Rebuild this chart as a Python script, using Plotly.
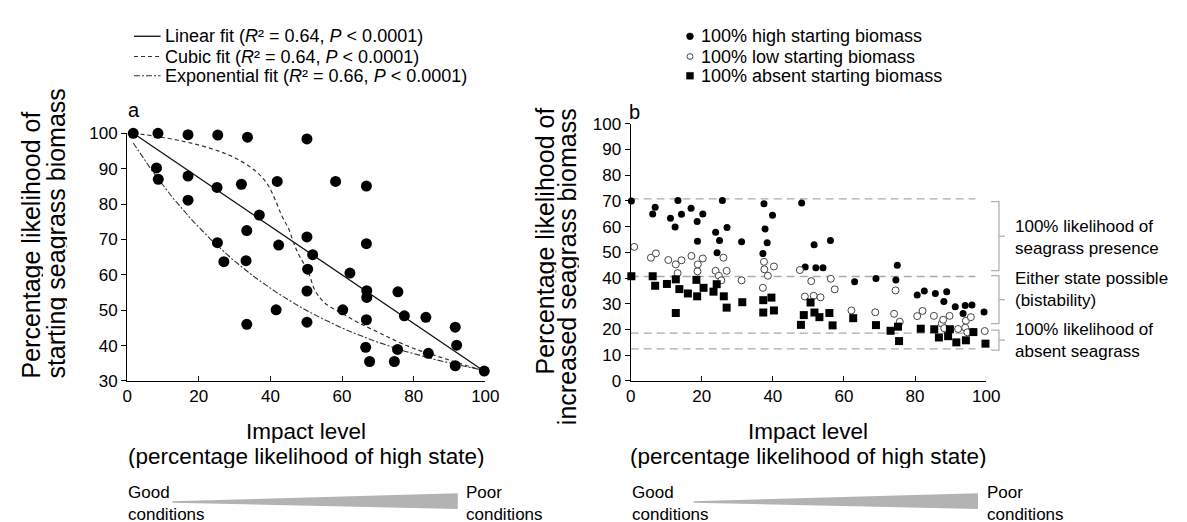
import plotly.graph_objects as go
import numpy as np

W, H = 1187, 522
FONT = "Liberation Sans, Arial, Helvetica, sans-serif"

# ---------------- Panel a data ----------------
a_x = [1.7, 8.6, 17.0, 25.3, 33.6, 50.2, 8.2, 8.7, 17.0, 17.0, 25.1, 31.9, 41.9, 58.2, 66.8,
       36.9, 33.4, 25.2, 42.3, 50.2, 27.0, 33.2, 51.8, 66.8, 50.4, 62.2, 50.2, 66.9, 66.9, 75.6,
       41.6, 60.2, 66.8, 50.2, 33.4, 77.4, 83.4, 91.6, 92.0, 66.6, 75.5, 84.1, 67.7, 74.6, 91.6, 99.7]
a_y = [100.0, 100.0, 99.6, 99.5, 98.9, 98.4, 90.2, 87.0, 87.9, 81.1, 84.7, 85.6, 86.4, 86.4, 85.1,
       76.9, 72.5, 69.1, 68.4, 70.7, 63.7, 64.0, 65.7, 68.8, 61.6, 60.5, 55.4, 55.5, 53.6, 55.2,
       50.1, 50.1, 47.3, 46.6, 46.0, 48.4, 48.0, 45.2, 40.1, 39.5, 38.9, 37.8, 35.5, 35.5, 34.3, 32.8]

# fitted models (coefficients)
lin_intercept, lin_slope = 101.17, -0.6864
exp_c, exp_a, exp_b = 24.2, 75.8, 0.02158
fit_x_min, fit_x_max = 1.7, 99.7
# cubic fit curve
cubic_x = [1.7, 8.4, 16.7, 24.9, 30.4, 35.9, 39.1, 41.4, 43.2, 45.1, 46.4, 48.0, 50.5, 52.4,
           55.1, 59.7, 64.3, 69.8, 75.3, 80.8, 86.3, 91.8, 99.7]
cubic_y = [100.0, 99.1, 97.5, 95.2, 92.9, 89.3, 85.7, 81.1, 76.6, 73.0, 69.3, 65.5, 61.0, 55.7,
           52.1, 49.3, 46.6, 43.9, 41.2, 38.9, 37.1, 35.3, 32.8]

# ---------------- Panel b data ----------------
high_x = [0.2, 6.9, 6.2, 11.2, 12.5, 13.3, 14.3, 17.0, 18.7, 20.3, 18.8, 23.9, 25.0, 24.3, 25.8,
          27.1, 31.2, 37.5, 37.8, 38.4, 39.9, 37.2, 48.1, 49.1, 51.6, 52.1, 54.1, 56.2, 63.0, 69.0,
          75.0, 74.6, 80.6, 82.6, 85.7, 88.1, 88.9, 91.3, 93.5, 94.1, 96.0, 99.4]
high_y = [69.9, 67.5, 64.9, 63.2, 59.8, 70.1, 64.8, 67.1, 62.0, 64.9, 54.3, 57.8, 54.6, 49.8, 70.1,
          59.6, 54.1, 68.9, 59.1, 53.7, 64.4, 49.5, 69.2, 44.3, 52.9, 44.0, 44.0, 54.6, 38.6, 39.8,
          45.0, 39.2, 33.4, 35.0, 34.0, 30.9, 34.7, 28.8, 26.2, 29.3, 29.5, 26.8]
low_x = [1.0, 5.7, 7.1, 10.6, 12.7, 14.3, 13.2, 17.1, 18.9, 20.3, 18.8, 23.9, 24.8, 25.5, 26.1,
         27.0, 31.2, 37.2, 37.5, 37.6, 38.6, 40.3, 47.6, 50.8, 49.0, 51.5, 53.4, 56.3, 57.4, 62.1,
         68.8, 74.5, 74.1, 75.7, 80.6, 82.1, 85.3, 87.5, 87.9, 88.2, 89.7, 92.1, 94.3, 94.1, 95.7,
         94.7, 99.6]
low_y = [52.1, 47.9, 49.6, 47.0, 45.3, 46.9, 41.9, 48.6, 45.3, 47.6, 42.6, 42.8, 40.9, 39.1, 47.9,
         42.8, 39.1, 36.2, 46.3, 43.4, 40.9, 44.5, 43.1, 38.8, 32.8, 33.1, 32.5, 39.7, 35.6, 27.4,
         26.7, 35.2, 26.1, 23.0, 25.2, 27.2, 25.3, 22.3, 23.8, 20.5, 25.3, 20.2, 23.4, 20.7, 24.8,
         18.9, 19.4]
absent_x = [0.2, 6.2, 6.9, 10.2, 12.7, 13.7, 12.7, 16.1, 18.5, 18.7, 20.5, 23.3, 24.2, 26.2, 27.0,
            31.4, 37.3, 39.6, 37.3, 40.3, 47.9, 48.7, 50.6, 51.7, 53.1, 55.9, 56.8, 62.6, 69.0,
            73.1, 75.2, 75.5, 81.6, 85.4, 86.7, 89.3, 89.8, 91.6, 94.3, 96.4, 99.8]
absent_y = [40.7, 40.7, 37.0, 37.7, 39.5, 35.7, 26.4, 34.0, 39.3, 32.9, 36.2, 34.7, 37.6, 32.9, 28.5,
            30.6, 31.4, 32.4, 26.6, 27.4, 21.8, 25.6, 30.5, 26.6, 24.8, 26.4, 21.6, 24.4, 21.7,
            19.5, 21.1, 15.5, 20.3, 20.1, 16.9, 17.4, 20.1, 15.0, 15.8, 19.0, 14.5]

# threshold lines (panel b)
thresholds = [70.8, 40.6, 18.6, 12.5]
threshold_x_end = 97

legend_labels_a = ["Linear fit (<i>R</i>² = 0.64, <i>P</i> &lt; 0.0001)",
                   "Cubic fit (<i>R</i>² = 0.64, <i>P</i> &lt; 0.0001)",
                   "Exponential fit (<i>R</i>² = 0.66, <i>P</i> &lt; 0.0001)"]
legend_labels_b = ["100% high starting biomass", "100% low starting biomass",
                   "100% absent starting biomass"]
region_labels = ["100% likelihood of<br>seagrass presence",
                 "Either state possible<br>(bistability)",
                 "100% likelihood of<br>absent seagrass"]
ticks_x = [0, 20, 40, 60, 80, 100]


def px(x):
    return x / W


def py(y):
    return 1 - y / H


LINE_STYLES = [dict(color="#111111", width=1.3, dash="solid"),
               dict(color="#333333", width=1.2, dash="4px,3px"),
               dict(color="#333333", width=1.1, dash="6px,2px,2px,2px")]

fig = go.Figure()

xs = np.linspace(fit_x_min, fit_x_max, 200)
fig.add_trace(go.Scatter(x=[fit_x_min, fit_x_max],
                         y=[lin_intercept + lin_slope * fit_x_min, lin_intercept + lin_slope * fit_x_max],
                         mode="lines", line=LINE_STYLES[0],
                         name="Linear fit", showlegend=False, xaxis="x", yaxis="y"))
fig.add_trace(go.Scatter(x=cubic_x, y=cubic_y, mode="lines", line_shape="spline",
                         line=LINE_STYLES[1],
                         name="Cubic fit", showlegend=False, xaxis="x", yaxis="y"))
fig.add_trace(go.Scatter(x=xs, y=exp_c + exp_a * np.exp(-exp_b * xs), mode="lines",
                         line=LINE_STYLES[2],
                         name="Exponential fit", showlegend=False, xaxis="x", yaxis="y"))
fig.add_trace(go.Scatter(x=a_x, y=a_y, mode="markers", cliponaxis=False,
                         marker=dict(color="black", size=11), showlegend=False,
                         xaxis="x", yaxis="y"))

# panel b threshold lines
for t in thresholds:
    fig.add_trace(go.Scatter(x=[0, threshold_x_end], y=[t, t], mode="lines",
                             line=dict(color="#aaaaaa", width=1.3, dash="8px,5px"),
                             showlegend=False, xaxis="x2", yaxis="y2", hoverinfo="skip"))

fig.add_trace(go.Scatter(x=high_x, y=high_y, mode="markers", cliponaxis=False,
                         marker=dict(color="black", size=7, symbol="circle"),
                         name=legend_labels_b[0], showlegend=False, xaxis="x2", yaxis="y2"))
fig.add_trace(go.Scatter(x=low_x, y=low_y, mode="markers", cliponaxis=False,
                         marker=dict(color="white", size=7, symbol="circle",
                                     line=dict(color="#444444", width=1)),
                         name=legend_labels_b[1], showlegend=False, xaxis="x2", yaxis="y2"))
fig.add_trace(go.Scatter(x=absent_x, y=absent_y, mode="markers", cliponaxis=False,
                         marker=dict(color="black", size=8, symbol="square"),
                         name=legend_labels_b[2], showlegend=False, xaxis="x2", yaxis="y2"))

axis_common = dict(showline=True, linecolor="black", linewidth=1.2, showgrid=False,
                   zeroline=False, tickfont=dict(family=FONT, size=17, color="black"),
                   tickcolor="black", ticklen=5, tickwidth=1)

layout = dict(
    width=W, height=H, margin=dict(l=0, r=0, t=0, b=0),
    paper_bgcolor="white", plot_bgcolor="white", showlegend=False,
    font=dict(family=FONT, color="black"),
    xaxis=dict(domain=[px(116), px(480)], range=[0, 100], tickvals=ticks_x, ticks="inside",
               anchor="y", **axis_common),
    yaxis=dict(domain=[py(377.7), py(120.7)], range=[30, 100], dtick=10, ticks="outside",
               anchor="x", **axis_common),
    xaxis2=dict(domain=[px(627.7), px(989)], range=[0, 100], tickvals=ticks_x, ticks="inside",
                anchor="y2", **axis_common),
    yaxis2=dict(domain=[py(377.7), py(110.7)], range=[0, 100], dtick=10, ticks="outside",
                anchor="x2", **axis_common),
)
fig.update_layout(**layout)

annotations = []


def ann(text, x, y, size, xanchor="center", yanchor="middle", angle=0, height=None,
        align="center"):
    d = dict(text=text, x=px(x), y=py(y), xref="paper", yref="paper",
             showarrow=False, xanchor=xanchor, yanchor=yanchor, textangle=angle, align=align,
             font=dict(family=FONT, size=size, color="black"))
    if height is not None:
        d["height"] = height
    annotations.append(d)


rows = [20, 41, 61]
# legends (manual)
for lbl, yy in zip(legend_labels_a, rows):
    ann(lbl, 152, yy, 18, xanchor="left", height=20)
for lbl, yy in zip(legend_labels_b, rows):
    ann(lbl, 697, yy, 18, xanchor="left", height=20)

# panel labels
ann("a", 123, 97, 20)
ann("b", 632, 99, 20)
# y-axis titles
ann("Percentage likelihood of", 19, 377, 25, yanchor="bottom", angle=-90, height=23)
ann("starting seagrass biomass", 43, 377, 25, yanchor="bottom", angle=-90, height=23)
ann("Percentage likelihood of", 540, 92, 25, yanchor="top", angle=-90, height=23)
ann("increased seagrass biomass", 563, 92, 25, yanchor="top", angle=-90, height=23)
# x-axis titles
for cx in (298, 808.3):
    ann("Impact level", cx, 430, 22.5, height=24)
    ann("(percentage likelihood of high state)", cx, 456, 22.5, height=24)
# conditions labels
for gx, pxr in ((115, 458), (627, 988)):
    ann("Good<br>conditions", gx, 505, 17, xanchor="left", align="left")
    ann("Poor<br>conditions", pxr, 505, 17, xanchor="left", align="left")
# right-hand region labels
for txt, yy in zip(region_labels, (228.5, 282.5, 335.5)):
    ann(txt, 1016, yy, 17, xanchor="left", align="left")

fig.update_layout(annotations=annotations)

shapes = []


def pth(points):
    d = ""
    for i, (x, y) in enumerate(points):
        d += ("M" if i == 0 else "L") + f"{px(x):.5f},{py(y):.5f} "
    return d


# legend samples: fit lines
for st, yy in zip(LINE_STYLES, rows):
    shapes.append(dict(type="line", xref="paper", yref="paper",
                       x0=px(123), x1=px(150), y0=py(yy), y1=py(yy), line=st))
# legend samples: markers
mx = 688
shapes.append(dict(type="circle", xref="paper", yref="paper", x0=px(mx - 3.5), x1=px(mx + 3.5),
                   y0=py(rows[0] + 3.5), y1=py(rows[0] - 3.5), fillcolor="black",
                   line=dict(color="black", width=0.5)))
shapes.append(dict(type="circle", xref="paper", yref="paper", x0=px(mx - 3), x1=px(mx + 3),
                   y0=py(rows[1] + 3), y1=py(rows[1] - 3), fillcolor="white",
                   line=dict(color="#444444", width=1)))
shapes.append(dict(type="rect", xref="paper", yref="paper", x0=px(mx - 3.5), x1=px(mx + 3.5),
                   y0=py(rows[2] + 3.5), y1=py(rows[2] - 3.5), fillcolor="black",
                   line=dict(color="black", width=0.5)))

# gradient wedges
for x0, x1 in ((162, 452), (691.7, 980.7)):
    shapes.append(dict(type="path", xref="paper", yref="paper",
                       path=pth([(x0, 502.5), (x1, 494.3), (x1, 510.5), (x0, 504)]) + "Z",
                       fillcolor="#b3b3b3", line=dict(width=0)))
# brackets
for top, bot in ((191.7, 263.3), (268.3, 318.3), (325, 345.7)):
    mid = (top + bot) / 2
    shapes.append(dict(type="path", xref="paper", yref="paper",
                       path=pth([(994, top), (1002, top), (1002, bot), (994, bot)]),
                       line=dict(color="#b0b0b0", width=1.3)))
    shapes.append(dict(type="path", xref="paper", yref="paper",
                       path=pth([(1002, mid), (1008, mid)]),
                       line=dict(color="#b0b0b0", width=1.3)))
fig.update_layout(shapes=shapes)

fig.write_html("out.html")
